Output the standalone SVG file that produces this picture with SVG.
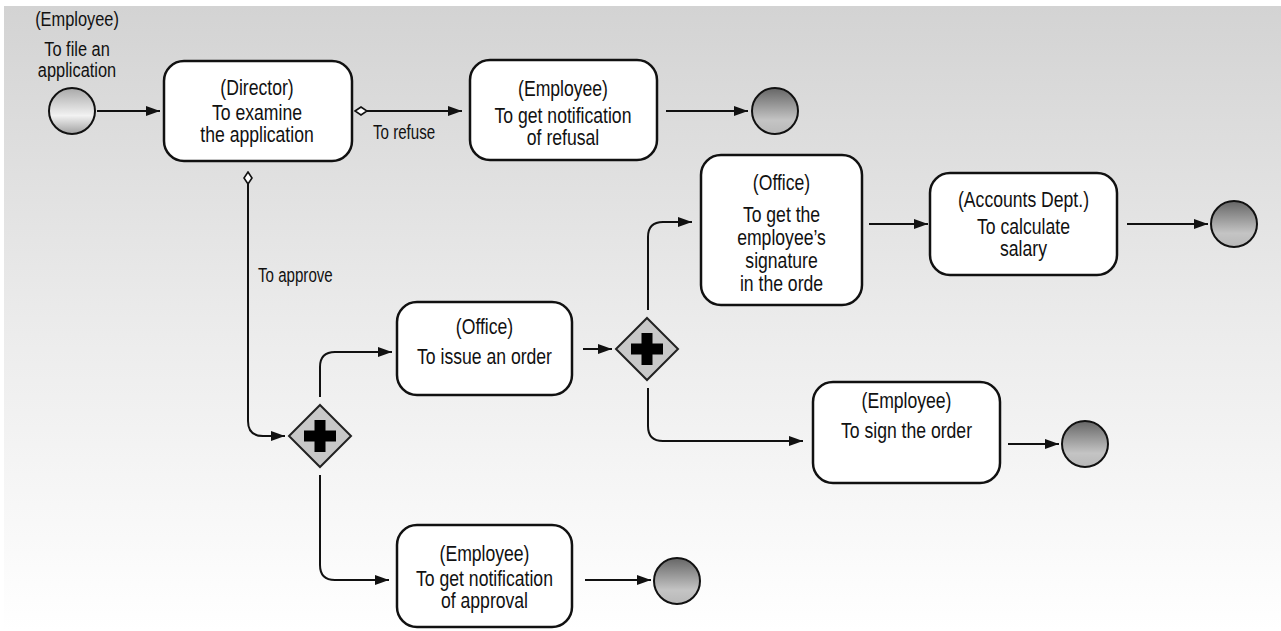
<svg xmlns="http://www.w3.org/2000/svg" width="1281" height="631" viewBox="0 0 1281 631">
<defs>
<linearGradient id="bg" x1="0" y1="0" x2="0" y2="1">
<stop offset="0" stop-color="#d3d3d3"/>
<stop offset="0.5" stop-color="#ebebeb"/>
<stop offset="1" stop-color="#ffffff"/>
</linearGradient>
<linearGradient id="startG" x1="0" y1="0" x2="0" y2="1">
<stop offset="0" stop-color="#a8a8a8"/>
<stop offset="0.6" stop-color="#f2f2f2"/>
<stop offset="1" stop-color="#a0a0a0"/>
</linearGradient>
<linearGradient id="endG" x1="0" y1="0" x2="0" y2="1">
<stop offset="0" stop-color="#666666"/>
<stop offset="0.7" stop-color="#c4c4c4"/>
<stop offset="1" stop-color="#b8b8b8"/>
</linearGradient>
<marker id="arr" markerUnits="userSpaceOnUse" markerWidth="14" markerHeight="10" viewBox="0 0 14 10" refX="14" refY="5" orient="auto">
<path d="M0,0 L14,5 L0,10 z" fill="#111"/>
</marker>
<marker id="dia" markerUnits="userSpaceOnUse" markerWidth="14" markerHeight="10" viewBox="0 0 14 10" refX="1" refY="5" orient="auto">
<path d="M1,5 L7,1 L13,5 L7,9 z" fill="#fff" stroke="#111" stroke-width="1.6"/>
</marker>
</defs>
<style>
.box{fill:#fff;stroke:#111;stroke-width:2.5}
.st{fill:url(#startG);stroke:#111;stroke-width:2}
.en{fill:url(#endG);stroke:#111;stroke-width:2}
.gw{fill:#c8c8c8;stroke:#222;stroke-width:2}
.plus{fill:#000}
.t{font-family:"Liberation Sans",Arial,sans-serif;font-size:22px;fill:#111;text-anchor:middle}
.s{font-size:21px}
.lb{font-family:"Liberation Sans",Arial,sans-serif;font-size:21px;fill:#111;text-anchor:start}
.c{fill:none;stroke:#111;stroke-width:2}
</style>
<rect x="0" y="0" width="1281" height="631" fill="#fff"/>
<rect x="4" y="6" width="1277" height="625" fill="url(#bg)"/>

<g id="connectors">
<path class="c" d="M97,111 H160" marker-end="url(#arr)"/>
<path class="c" d="M355,111 H462" marker-start="url(#dia)" marker-end="url(#arr)"/>
<path class="c" d="M666,111 H748" marker-end="url(#arr)"/>
<path class="c" d="M248,172 V421 Q248,436 263,436 H285" marker-start="url(#dia)" marker-end="url(#arr)"/>
<path class="c" d="M320,397 V367 Q320,352 335,352 H392" marker-end="url(#arr)"/>
<path class="c" d="M320,475 V565 Q320,580 335,580 H389" marker-end="url(#arr)"/>
<path class="c" d="M583,349 H612" marker-end="url(#arr)"/>
<path class="c" d="M648,310 V237 Q648,222 663,222 H692" marker-end="url(#arr)"/>
<path class="c" d="M648,388 V426 Q648,441 663,441 H803" marker-end="url(#arr)"/>
<path class="c" d="M869,224 H928" marker-end="url(#arr)"/>
<path class="c" d="M1127,224 H1208" marker-end="url(#arr)"/>
<path class="c" d="M1008,444 H1059" marker-end="url(#arr)"/>
<path class="c" d="M585,580 H651" marker-end="url(#arr)"/>
<text class="lb" transform="translate(373,139) scale(0.72,1)">To refuse</text>
<text class="lb" transform="translate(258,282) scale(0.72,1)">To approve</text>
</g>

<g id="start">
<circle class="st" cx="72" cy="111" r="23"/>
<text class="t s" transform="translate(77,26) scale(0.78,1)">(Employee)</text>
<text class="t s" transform="translate(77,56) scale(0.78,1)">To file an</text>
<text class="t s" transform="translate(77,77) scale(0.78,1)">application</text>
</g>

<g id="examine">
<rect class="box" x="164" y="61" width="188" height="100" rx="20"/>
<text class="t" transform="translate(257,95) scale(0.8,1)">(Director)</text>
<text class="t" transform="translate(257,120) scale(0.8,1)">To examine</text>
<text class="t" transform="translate(257,142) scale(0.8,1)">the application</text>
</g>

<g id="refusal">
<rect class="box" x="470" y="60" width="187" height="100" rx="20"/>
<text class="t" transform="translate(563,96) scale(0.8,1)">(Employee)</text>
<text class="t" transform="translate(563,123) scale(0.8,1)">To get notification</text>
<text class="t" transform="translate(563,145) scale(0.8,1)">of refusal</text>
</g>

<g id="end1"><circle class="en" cx="775" cy="111" r="23"/></g>

<g id="gateway1">
<path class="gw" d="M320,405 L351,436 L320,467 L289,436 z"/>
<path class="plus" d="M314.5,420 h11 v10.5 h10.5 v11 h-10.5 v10.5 h-11 v-10.5 h-10.5 v-11 h10.5 z"/>
</g>

<g id="issue">
<rect class="box" x="397" y="302" width="175" height="93" rx="20"/>
<text class="t" transform="translate(484.5,334) scale(0.8,1)">(Office)</text>
<text class="t" transform="translate(484.5,364) scale(0.8,1)">To issue an order</text>
</g>

<g id="gateway2">
<path class="gw" d="M647,318 L678,349 L647,380 L616,349 z"/>
<path class="plus" d="M641.5,333 h11 v10.5 h10.5 v11 h-10.5 v10.5 h-11 v-10.5 h-10.5 v-11 h10.5 z"/>
</g>

<g id="signature">
<rect class="box" x="701" y="155" width="161" height="150" rx="20"/>
<text class="t" transform="translate(781.5,190) scale(0.8,1)">(Office)</text>
<text class="t" transform="translate(781.5,222) scale(0.8,1)">To get the</text>
<text class="t" transform="translate(781.5,245) scale(0.8,1)">employee’s</text>
<text class="t" transform="translate(781.5,268) scale(0.8,1)">signature</text>
<text class="t" transform="translate(781.5,291) scale(0.8,1)">in the orde</text>
</g>

<g id="salary">
<rect class="box" x="930" y="173" width="187" height="102" rx="20"/>
<text class="t" transform="translate(1023.5,207) scale(0.8,1)">(Accounts Dept.)</text>
<text class="t" transform="translate(1023.5,234) scale(0.8,1)">To calculate</text>
<text class="t" transform="translate(1023.5,256) scale(0.8,1)">salary</text>
</g>

<g id="end2"><circle class="en" cx="1234" cy="224" r="23"/></g>

<g id="sign">
<rect class="box" x="813" y="382" width="187" height="101" rx="20"/>
<text class="t" transform="translate(906.5,408) scale(0.8,1)">(Employee)</text>
<text class="t" transform="translate(906.5,438) scale(0.8,1)">To sign the order</text>
</g>

<g id="end3"><circle class="en" cx="1085" cy="444" r="23"/></g>

<g id="approval">
<rect class="box" x="397" y="525" width="175" height="102" rx="20"/>
<text class="t" transform="translate(484.5,561) scale(0.8,1)">(Employee)</text>
<text class="t" transform="translate(484.5,586) scale(0.8,1)">To get notification</text>
<text class="t" transform="translate(484.5,608) scale(0.8,1)">of approval</text>
</g>

<g id="end4"><circle class="en" cx="677" cy="581" r="23"/></g>
</svg>
